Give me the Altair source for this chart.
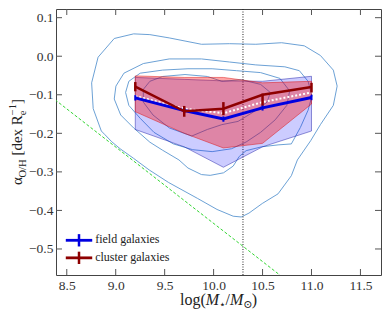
import altair as alt
import pandas as pd

# ---------------- data ----------------
mass = [9.2, 9.7, 10.1, 10.5, 11.0]

field_alpha = [-0.108, -0.141, -0.163, -0.134, -0.107]
field_lo = [-0.115, -0.148, -0.170, -0.141, -0.114]
field_hi = [-0.101, -0.134, -0.156, -0.127, -0.100]

cluster_alpha = [-0.079, -0.143, -0.136, -0.100, -0.080]
cluster_lo = [-0.091, -0.157, -0.153, -0.128, -0.094]
cluster_hi = [-0.067, -0.129, -0.119, -0.097, -0.069]

all_alpha = [-0.103, -0.136, -0.148, -0.119, -0.094]

field_band_hi = [-0.055, -0.060, -0.064, -0.065, -0.052]
field_band_lo = [-0.190, -0.235, -0.288, -0.235, -0.194]
cluster_band_hi = [-0.051, -0.055, -0.055, -0.069, -0.065]
cluster_band_lo = [-0.144, -0.200, -0.238, -0.226, -0.124]

c1_x = [9.183, 9.349, 9.547, 9.876, 10.163, 10.431, 10.695, 10.926, 11.091, 11.223, 11.262, 11.223,
        11.091, 10.992, 10.856, 10.794, 10.658, 10.497, 10.361, 10.282, 10.200, 10.035, 9.837, 9.540,
        9.342, 9.183, 9.045, 8.960, 8.886, 8.853, 8.770, 8.754, 8.820, 8.985, 9.183]
c1_y = [0.058, 0.056, 0.0475, 0.031, 0.0325, 0.031, 0.035, 0.027, 0.002, -0.036, -0.0775, -0.1275,
        -0.1775, -0.219, -0.269, -0.31, -0.357, -0.382, -0.407, -0.417, -0.415, -0.3975, -0.369, -0.3275,
        -0.295, -0.265, -0.24, -0.222, -0.2025, -0.194, -0.136, -0.069, -0.0025, 0.046, 0.058]
c2_x = [9.084, 9.282, 9.547, 9.876, 10.163, 10.431, 10.728, 10.876, 10.965, 11.005, 10.965, 10.886,
        10.794, 10.658, 10.490, 10.332, 10.262, 10.200, 10.101, 9.965, 9.876, 9.738, 9.646, 9.480,
        9.349, 9.183, 9.051, 8.985, 9.002, 9.084]
c2_y = [-0.044, -0.019, -0.007, -0.007, -0.015, -0.0225, -0.0275, -0.0375, -0.065, -0.1025, -0.14, -0.185,
        -0.2275, -0.23, -0.235, -0.245, -0.26, -0.285, -0.3025, -0.309, -0.307, -0.29, -0.269, -0.244,
        -0.223, -0.186, -0.1525, -0.111, -0.0775, -0.044]
c3_x = [9.480, 9.738, 9.985, 10.233, 10.480, 10.678, 10.777, 10.748, 10.629, 10.480, 10.332, 10.183,
        9.985, 9.787, 9.589, 9.391, 9.250, 9.134, 9.101, 9.134, 9.250, 9.480]
c3_y = [-0.036, -0.0325, -0.0325, -0.0375, -0.0425, -0.0575, -0.09, -0.1275, -0.165, -0.1975, -0.2225, -0.24,
        -0.2475, -0.2425, -0.2275, -0.1975, -0.161, -0.1275, -0.094, -0.065, -0.044, -0.036]
c4_x = [9.349, 9.480, 9.708, 9.936, 10.084, 10.282, 10.480, 10.579, 10.547, 10.411, 10.250, 10.084,
        9.936, 9.777, 9.547, 9.381, 9.282, 9.282, 9.349]
c4_y = [-0.065, -0.0525, -0.0475, -0.0525, -0.065, -0.061, -0.073, -0.094, -0.119, -0.144, -0.169, -0.1775,
        -0.19, -0.207, -0.186, -0.1525, -0.119, -0.086, -0.065]

green_x = [8.3, 10.8]
green_y = [-0.097, -0.592]
vline_x = [10.3]

x_ticks = [8.5, 9.0, 9.5, 10.0, 10.5, 11.0, 11.5]
y_ticks = [-0.5, -0.4, -0.3, -0.2, -0.1, 0.0, 0.1]

legend_labels = ["field galaxies", "cluster galaxies"]
legend_y = [-0.4775, -0.523]

# ---------------- chart ----------------
W, H = 325, 266
SERIF = "Liberation Serif, DejaVu Serif, serif"
xscale = alt.Scale(domain=[8.39, 11.71], nice=False, zero=False)
yscale = alt.Scale(domain=[-0.5675, 0.1225], nice=False, zero=False)
xaxis = alt.Axis(values=x_ticks, format=".1f", title=None, labelOverlap=False, labelFlush=False,
                 labelFont=SERIF)
yaxis = alt.Axis(values=y_ticks, format=".1f", title=None, labelOverlap=False, labelFlush=False,
                 labelFont=SERIF)
X = alt.X("x:Q", scale=xscale, axis=xaxis)
Y = alt.Y("y:Q", scale=yscale, axis=yaxis)

rows = []
for lvl, (cx, cy) in enumerate([(c1_x, c1_y), (c2_x, c2_y), (c3_x, c3_y), (c4_x, c4_y)]):
    for i, (a, b) in enumerate(zip(cx, cy)):
        rows.append({"x": a, "y": b, "level": lvl, "idx": i})
contours = pd.DataFrame(rows)

contour_layer = alt.Chart(contours).mark_line(color="#5b96d0", strokeWidth=0.9, clip=True).encode(
    x=X, y=Y, detail="level:N", order="idx:Q")

green = alt.Chart(pd.DataFrame({"x": green_x, "y": green_y})).mark_line(
    color="#33d633", strokeWidth=1, strokeDash=[3, 2], clip=True).encode(x=X, y=Y)

vline = alt.Chart(pd.DataFrame({"x": vline_x})).mark_rule(
    color="#222", strokeWidth=1, strokeDash=[1, 1.5]).encode(x=X)

bands = pd.DataFrame({"x": mass, "fhi": field_band_hi, "flo": field_band_lo,
                      "chi": cluster_band_hi, "clo": cluster_band_lo})
field_band = alt.Chart(bands).mark_area(
    fill="#0000ff", fillOpacity=0.2, stroke="#2222aa", strokeOpacity=0.55, strokeWidth=0.9).encode(
    x=X, y=alt.Y("fhi:Q", scale=yscale, axis=yaxis), y2="flo:Q")
cluster_band = alt.Chart(bands).mark_area(
    fill="#ff0000", fillOpacity=0.35, stroke="#dd1111", strokeOpacity=0.55, strokeWidth=0.9).encode(
    x=X, y=alt.Y("chi:Q", scale=yscale, axis=yaxis), y2="clo:Q")

pts = pd.DataFrame({"x": mass, "f": field_alpha, "flo": field_lo, "fhi": field_hi,
                    "c": cluster_alpha, "clo": cluster_lo, "chi": cluster_hi, "a": all_alpha})

white = alt.Chart(pts).mark_line(color="white", strokeWidth=2, strokeDash=[2, 2]).encode(
    x=X, y=alt.Y("a:Q", scale=yscale, axis=yaxis))

BLUE = "#0000e0"
RED = "#8e0000"
field_line = alt.Chart(pts).mark_line(color=BLUE, strokeWidth=3).encode(
    x=X, y=alt.Y("f:Q", scale=yscale, axis=yaxis))
field_err = alt.Chart(pts).mark_rule(color=BLUE, strokeWidth=2).encode(
    x=X, y=alt.Y("flo:Q", scale=yscale, axis=yaxis), y2="fhi:Q")
cluster_line = alt.Chart(pts).mark_line(color=RED, strokeWidth=2.5).encode(
    x=X, y=alt.Y("c:Q", scale=yscale, axis=yaxis))
cluster_err = alt.Chart(pts).mark_rule(color=RED, strokeWidth=2.5).encode(
    x=X, y=alt.Y("clo:Q", scale=yscale, axis=yaxis), y2="chi:Q")

# legend (drawn in data coordinates)
leg = pd.DataFrame({"x": [8.49, 8.49], "x2": [8.76, 8.76], "xm": [8.625, 8.625],
                    "y": legend_y, "lo": [v - 0.016 for v in legend_y], "hi": [v + 0.016 for v in legend_y],
                    "tx": [8.79, 8.79], "label": legend_labels, "c": [BLUE, RED]})
leg_line = alt.Chart(leg).mark_rule(strokeWidth=2.8).encode(
    x=X, x2="x2:Q", y=Y, color=alt.Color("c:N", scale=None))
leg_bar = alt.Chart(leg).mark_rule(strokeWidth=2.5).encode(
    x=alt.X("xm:Q", scale=xscale, axis=xaxis), y=alt.Y("lo:Q", scale=yscale, axis=yaxis), y2="hi:Q",
    color=alt.Color("c:N", scale=None))
leg_text = alt.Chart(leg).mark_text(align="left", baseline="middle", font=SERIF, fontSize=12,
                                    fontWeight="normal", color="#222", dy=-1).encode(
    x=alt.X("tx:Q", scale=xscale, axis=xaxis), y=Y, text="label:N")

# inward ticks on all four sides
xt = pd.DataFrame({"x": x_ticks})
yt = pd.DataFrame({"y": y_ticks})
TK = dict(color="#555", strokeWidth=1)
tick_b = alt.Chart(xt).mark_rule(**TK).encode(x=X, y=alt.value(H), y2=alt.value(H - 6))
tick_t = alt.Chart(xt).mark_rule(**TK).encode(x=X, y=alt.value(0), y2=alt.value(6))
tick_l = alt.Chart(yt).mark_rule(**TK).encode(y=Y, x=alt.value(0), x2=alt.value(6))
tick_r = alt.Chart(yt).mark_rule(**TK).encode(y=Y, x=alt.value(W), x2=alt.value(W - 6))

one = pd.DataFrame({"k": [0]})


def piece(text, px, py, size, angle=0, style="normal"):
    return alt.Chart(one).mark_text(text=text, align="left", baseline="alphabetic", font=SERIF,
                                    fontSize=size, fontStyle=style, fontWeight="normal", angle=angle,
                                    color="#222").encode(
        x=alt.value(px), y=alt.value(py))


# y title: alpha_{O/H} [dex R_e^{-1}]
ytitle = [
    piece("α", -34, 176, 15, 270),
    piece("O/H", -30.5, 168.5, 10.5, 270),
    piece("[dex R", -34, 146.6, 15, 270),
    piece("e", -30.5, 106.2, 10.5, 270),
    piece("−1", -40, 106.2, 10.5, 270),
    piece("]", -34, 95, 15, 270),
]
# x title: log(M_star / M_sun)
XB = 296
xtitle = [
    piece("log(", 124, XB, 16),
    piece("M", 149.8, XB, 16, 0, "italic"),
    piece("⋆", 163.1, XB + 3, 11),
    piece("/", 169.6, XB, 16),
    piece("M", 174, XB, 16, 0, "italic"),
    piece("⊙", 187.3, XB + 3, 11),
    piece(")", 195.8, XB, 16),
]

chart = alt.layer(
    contour_layer, green, vline, field_band, cluster_band, white,
    field_line, field_err, cluster_line, cluster_err,
    leg_line, leg_bar, leg_text,
    tick_b, tick_t, tick_l, tick_r,
    *ytitle, *xtitle,
).properties(
    width=W, height=H,
    padding={"left": 48, "top": 1, "right": 1, "bottom": 37},
    autosize=alt.AutoSizeParams(type="none"),
    background="white",
).configure_view(
    stroke="#444", strokeWidth=1,
).configure_axis(
    grid=False, domain=False, ticks=False, tickSize=0,
    labelFont=SERIF, labelFontSize=13.5, labelColor="#333", labelPadding=3,
)

chart.save("out.html", embed_options={"renderer": "svg", "actions": False})
